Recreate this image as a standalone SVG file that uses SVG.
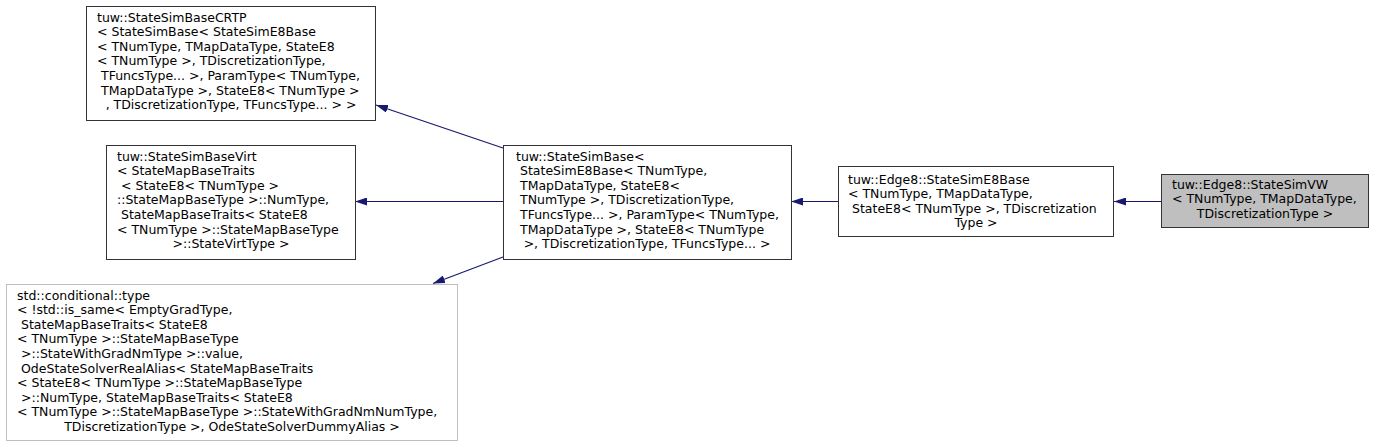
<svg xmlns="http://www.w3.org/2000/svg" width="1375" height="447" viewBox="0 0 1375 447">
<style>
text{font-family:"DejaVu Sans","Liberation Sans",sans-serif;font-size:12.5px;fill:#000}
.c{text-anchor:middle}
.box{fill:#fff;stroke:#333;stroke-width:1}
.gray{fill:#fff;stroke:#bfbfbf;stroke-width:1}
.sel{fill:#bfbfbf;stroke:#333;stroke-width:1}
.edge{stroke:#191970;stroke-width:1.2;fill:none}
</style>
<defs>
<marker id="ah" viewBox="0 0 12 8" refX="12" refY="4" markerWidth="12" markerHeight="8" markerUnits="userSpaceOnUse" orient="auto">
<path d="M0,0 L12,4 L0,8 Z" fill="#191970"/>
</marker>
</defs>
<rect width="1375" height="447" fill="#fff"/>
<g id="edges">
<line class="edge" x1="1161" y1="201.5" x2="1114" y2="201.5" marker-end="url(#ah)"/>
<line class="edge" x1="838" y1="201.5" x2="791" y2="201.5" marker-end="url(#ah)"/>
<line class="edge" x1="503" y1="201.5" x2="355" y2="201.5" marker-end="url(#ah)"/>
<line class="edge" x1="503" y1="148" x2="376" y2="105" marker-end="url(#ah)"/>
<line class="edge" x1="503" y1="257" x2="433" y2="283.5" marker-end="url(#ah)"/>
</g>
<g id="nodeA">
<rect class="box" x="86.5" y="6.5" width="289" height="114"/>
<text x="97" y="21.5">tuw::StateSimBaseCRTP</text>
<text x="97" y="36.1">&lt; StateSimBase&lt; StateSimE8Base</text>
<text x="97" y="50.7">&lt; TNumType, TMapDataType, StateE8</text>
<text x="97" y="65.3">&lt; TNumType &gt;, TDiscretizationType,</text>
<text x="101" y="79.9">TFuncsType... &gt;, ParamType&lt; TNumType,</text>
<text x="101" y="94.5">TMapDataType &gt;, StateE8&lt; TNumType &gt;</text>
<text class="c" x="231" y="109.1">, TDiscretizationType, TFuncsType... &gt; &gt;</text>
</g>
<g id="nodeB">
<rect class="box" x="106.5" y="145.5" width="249" height="114"/>
<text x="117" y="160.5">tuw::StateSimBaseVirt</text>
<text x="117" y="175.1">&lt; StateMapBaseTraits</text>
<text x="121" y="189.7">&lt; StateE8&lt; TNumType &gt;</text>
<text x="117" y="204.3">::StateMapBaseType &gt;::NumType,</text>
<text x="121" y="218.9">StateMapBaseTraits&lt; StateE8</text>
<text x="117" y="233.5">&lt; TNumType &gt;::StateMapBaseType</text>
<text class="c" x="231" y="248.1">&gt;::StateVirtType &gt;</text>
</g>
<g id="nodeC">
<rect class="gray" x="6.5" y="284.5" width="451" height="156"/>
<text x="17" y="299.5">std::conditional::type</text>
<text x="17" y="314.1">&lt; !std::is_same&lt; EmptyGradType,</text>
<text x="21" y="328.7">StateMapBaseTraits&lt; StateE8</text>
<text x="17" y="343.3">&lt; TNumType &gt;::StateMapBaseType</text>
<text x="21" y="357.9">&gt;::StateWithGradNmType &gt;::value,</text>
<text x="21" y="372.5">OdeStateSolverRealAlias&lt; StateMapBaseTraits</text>
<text x="17" y="387.1">&lt; StateE8&lt; TNumType &gt;::StateMapBaseType</text>
<text x="21" y="401.7">&gt;::NumType, StateMapBaseTraits&lt; StateE8</text>
<text x="17" y="416.3">&lt; TNumType &gt;::StateMapBaseType &gt;::StateWithGradNmNumType,</text>
<text class="c" x="232" y="430.9">TDiscretizationType &gt;, OdeStateSolverDummyAlias &gt;</text>
</g>
<g id="nodeD">
<rect class="box" x="503.5" y="145.5" width="288" height="114"/>
<text x="516" y="160.5">tuw::StateSimBase&lt;</text>
<text x="520" y="175.1">StateSimE8Base&lt; TNumType,</text>
<text x="520" y="189.7">TMapDataType, StateE8&lt;</text>
<text x="520" y="204.3">TNumType &gt;, TDiscretizationType,</text>
<text x="520" y="218.9">TFuncsType... &gt;, ParamType&lt; TNumType,</text>
<text x="520" y="233.5">TMapDataType &gt;, StateE8&lt; TNumType</text>
<text class="c" x="647" y="248.1">&gt;, TDiscretizationType, TFuncsType... &gt;</text>
</g>
<g id="nodeE">
<rect class="box" x="838.5" y="166.5" width="275" height="70"/>
<text x="848" y="183.5">tuw::Edge8::StateSimE8Base</text>
<text x="848" y="198.1">&lt; TNumType, TMapDataType,</text>
<text x="852" y="212.7">StateE8&lt; TNumType &gt;, TDiscretization</text>
<text class="c" x="976" y="227.3">Type &gt;</text>
</g>
<g id="nodeF">
<rect class="sel" x="1161.5" y="174.5" width="207" height="53"/>
<text x="1172" y="188.8">tuw::Edge8::StateSimVW</text>
<text x="1172" y="203.4">&lt; TNumType, TMapDataType,</text>
<text class="c" x="1265" y="218">TDiscretizationType &gt;</text>
</g>
</svg>
